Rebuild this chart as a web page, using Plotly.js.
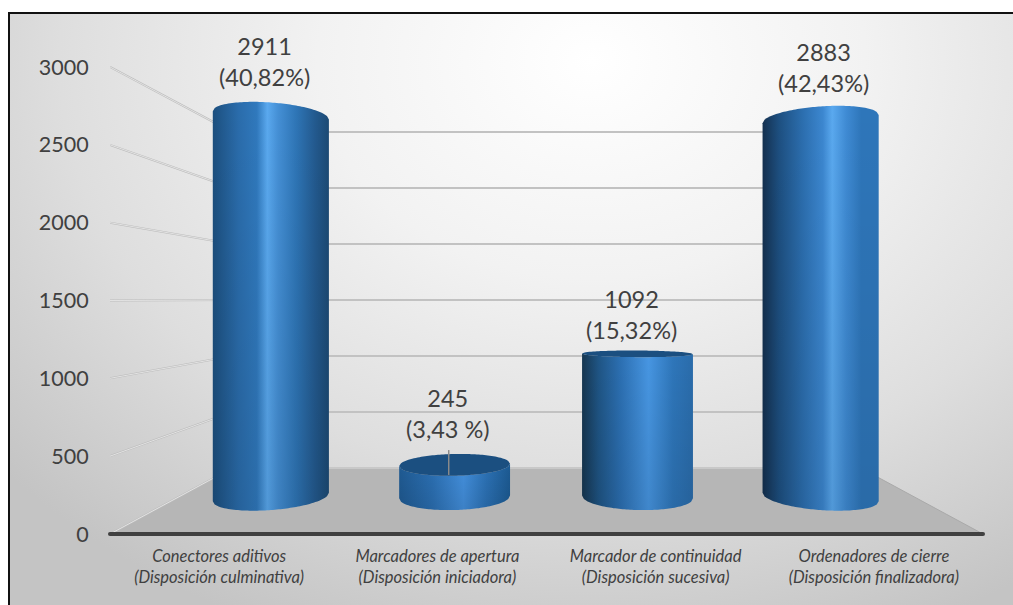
<!DOCTYPE html>
<html><head><meta charset="utf-8">
<script src="https://cdn.plot.ly/plotly-3.0.1.min.js"></script>
<style>
html,body{margin:0;padding:0;background:#fff;width:1013px;height:605px;overflow:hidden}
#frame{position:absolute;left:8px;top:12px;width:1005px;height:593px;box-sizing:border-box;border:2px solid #111;border-bottom:none;border-right:none;
background:radial-gradient(ellipse 78% 105% at 58% 8%,#ffffff 0%,#f2f2f2 35%,#dedede 68%,#c4c4c4 100%)}
#chart{position:absolute;left:0;top:0;width:1013px;height:605px}
</style></head><body>
<div id="frame"></div><div id="chart"></div>
<script>
const categories = ["Conectores aditivos<br>(Disposición culminativa)","Marcadores de apertura<br>(Disposición iniciadora)","Marcador de continuidad<br>(Disposición sucesiva)","Ordenadores de cierre<br>(Disposición finalizadora)"];
const counts = [2911,245,1092,2883];
const percents = ["(40,82%)","(3,43 %)","(15,32%)","(42,43%)"];
const yTicks = [0,500,1000,1500,2000,2500,3000];

// perspective of the fake-3D scene, in axis units
const pxPerUnit = 0.15567;
const depth = 0.842, backDepth = 0.72, xMid = 1.5, baseV = 238, horizon = 1471, flat = 14.7;
const xNudge = [0,0,-0.004,-0.007];
const xAt = i => xMid + (i - xMid) * depth + xNudge[i];
const halfW = i => 0.248 + 0.012 * Math.abs(i - xMid);
const semi = v => (horizon - v) / flat;
const N = 60;
function edge(i, v, sign, reverse) {
  const xs = [], ys = [], s = semi(v), c = xAt(i), w = halfW(i), off = i - xMid;
  for (let k = 0; k <= N; k++) {
    const t = -1 + 2 * k / N;
    xs.push(c + w * t);
    ys.push(v - sign * s * Math.sqrt(1 - t * t) - 0.215 * s * off * t);
  }
  if (reverse) { xs.reverse(); ys.reverse(); }
  return [xs, ys];
}
const topV = i => baseV + depth * counts[i];
const bodyScales = [
  [[0,'#1c4f7e'],[0.22,'#2a6cab'],[0.38,'#3079bd'],[0.47,'#5aa9ef'],[0.56,'#4590d6'],[0.72,'#2e75b6'],[0.88,'#235a8f'],[1,'#1c4a74']],
  [[0,'#1f5a92'],[0.3,'#2b6fb2'],[0.58,'#438fdc'],[0.78,'#2c72b6'],[1,'#1c5a92']],
  [[0,'#163650'],[0.15,'#1f5585'],[0.35,'#2c70b3'],[0.6,'#4796e2'],[0.82,'#2e76ba'],[1,'#2a6cab']],
  [[0,'#14304f'],[0.14,'#1d4f80'],[0.35,'#2c6fb0'],[0.52,'#3c87d0'],[0.6,'#5aa9ef'],[0.72,'#3f8bd4'],[0.85,'#2e76ba'],[1,'#2e76ba']]
];
const traces = [];
counts.forEach((val, i) => {
  const [tx, ty] = edge(i, topV(i), 1, false);
  const [bx, by] = edge(i, baseV, 1, true);
  const xs = tx.concat(bx, [tx[0]]), ys = ty.concat(by, [ty[0]]);
  traces.push({type:'scatter',mode:'none',x:xs,y:ys,fill:'toself',hoverinfo:'skip',showlegend:false,
    fillgradient:{type:'horizontal',colorscale:bodyScales[i]}});
  traces.push({type:'scatter',mode:'none',x:xs,y:ys,fill:'toself',hoverinfo:'skip',showlegend:false,
    fillgradient:{type:'vertical',colorscale:[[0,'rgba(0,0,0,0.10)'],[1,'rgba(0,0,0,0)']]}});
  if (semi(topV(i)) > 0) {
    const [ux, uy] = edge(i, topV(i), -1, true);
    traces.push({type:'scatter',mode:'none',x:tx.concat(ux),y:ty.concat(uy),fill:'toself',fillcolor:'#1b4f80',hoverinfo:'skip',showlegend:false});
  }
});
// floor edge at the value zero, in front of everything
traces.push({type:'scatter',mode:'lines+markers',x:[-0.5,3.5],y:[0,0],cliponaxis:false,hoverinfo:'skip',showlegend:false,
  line:{color:'#404040',width:4},marker:{color:'#404040',size:4}});

const shapes = [];
const backY = v => 66 / pxPerUnit + v * (336 / 3000) / pxPerUnit;
const leftX = xMid - 2 * backDepth;
const rightX = xMid + 2 * backDepth;
shapes.push({type:'path',layer:'below',line:{width:0},fillcolor:'#b6b6b6',
  path:`M -0.5 0 L 3.5 0 L ${rightX} ${backY(0)} L ${leftX} ${backY(0)} Z`});
yTicks.forEach(v => {
  const by = backY(v);
  shapes.push({type:'line',layer:'below',x0:leftX,x1:rightX,y0:by,y1:by,line:{color:v>0?'#c2c2c2':'#c8c8c8',width:2}});
  shapes.push({type:'line',layer:'below',x0:-0.5,x1:leftX,y0:v,y1:by,line:{color:'#bcbcbc',width:2}});
  shapes.push({type:'line',layer:'below',x0:-0.5,x1:leftX,y0:v,y1:by,line:{color:'#ececec',width:0.8}});
});
shapes.push({type:'line',layer:'below',x0:3.5,x1:rightX,y0:0,y1:backY(0),line:{color:'#a9a9a9',width:1}});
// leader line of the short bar
shapes.push({type:'line',layer:'above',x0:xAt(1)-0.027,x1:xAt(1)-0.027,y0:topV(1)+95,y1:topV(1)-65,line:{color:'#8a8a8a',width:1.5}});

const labelDx = [-0.03,-0.03,-0.026,0.012];
const labelUp = [54,51,39,52];
const annotations = counts.map((val,i) => ({
  x:xAt(i)+labelDx[i], y:topV(i), yshift:labelUp[i], xref:'x', yref:'y', showarrow:false, yanchor:'middle', xanchor:'center',
  text:val+'<br>'+percents[i], font:{family:'Lato, Carlito, sans-serif',size:23.5,color:'#404040'}
}));

Plotly.newPlot('chart',traces,{
  width:1013,height:605,paper_bgcolor:'rgba(0,0,0,0)',plot_bgcolor:'rgba(0,0,0,0)',showlegend:false,
  margin:{l:110,r:30,t:62,b:66,pad:0},
  xaxis:{range:[-0.5,3.5],tickmode:'array',tickvals:[0,1,2,3],ticktext:categories,showgrid:false,zeroline:false,showline:false,
    ticks:'outside',ticklen:2,tickcolor:'rgba(0,0,0,0)',tickangle:0,
    tickfont:{family:'Lato, Carlito, sans-serif',size:16.5,color:'#404040',style:'italic'}},
  yaxis:{range:[-32,3032],tickmode:'array',tickvals:yTicks,showgrid:false,zeroline:false,showline:false,
    ticks:'outside',ticklen:16,tickcolor:'rgba(0,0,0,0)',
    tickfont:{family:'Lato, Carlito, sans-serif',size:21.5,color:'#404040'}},
  shapes,annotations
},{displayModeBar:false,staticPlot:true});
</script>
</body></html>
